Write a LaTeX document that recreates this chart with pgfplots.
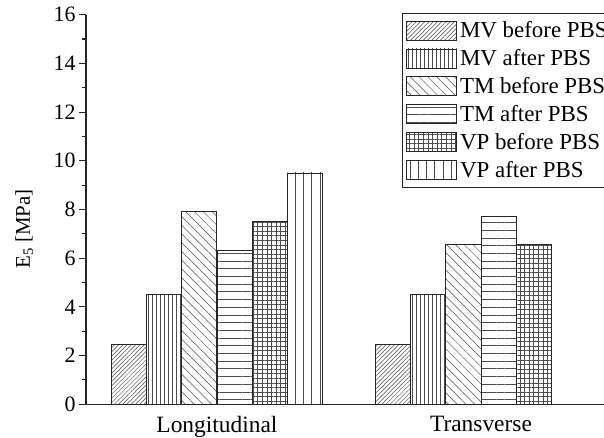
\documentclass[border=0pt]{standalone}
\usepackage{fontspec}
\setmainfont{Liberation Serif}
\usepackage{pgfplots}
\pgfplotsset{compat=1.18}
\usetikzlibrary{patterns.meta}

\definecolor{hatchgray}{gray}{0.3}
\definecolor{edgegray}{gray}{0.15}

% rectangular legend swatch showing the fill pattern of each series
\pgfplotsset{swatch/.style={legend image code/.code={%
  \draw[##1] (0bp,-9.5bp) rectangle (50bp,9.5bp);}}}

\begin{document}
\begin{tikzpicture}
\begin{axis}[
  at={(86bp,33.7bp)}, anchor=south west,
  scale only axis, width=527bp, height=389.6bp,
  xmin=0.504, xmax=2.5, ymin=0, ymax=16,
  axis x line=bottom, axis y line=left,
  axis line style={-, line width=1.3bp, edgegray},
  ytick={0,2,...,16}, minor y tick num=1,
  tick align=outside,
  major tick length=7bp, minor tick length=4bp,
  tick style={line width=1.1bp, edgegray},
  xtick={1,2}, xticklabels={Longitudinal,Transverse},
  major x tick style={draw=none},
  /pgf/number format/assume math mode=true,
  yticklabel style={font=\fontsize{22}{22}\selectfont},
  xticklabel style={font=\fontsize{23.5}{23.5}\selectfont, yshift=-1.5bp},
  ylabel={E\textsubscript{5} [MPa]},
  ylabel style={font=\fontsize{21}{21}\selectfont,
    at={(axis description cs:-0.117,0.45)}, anchor=center},
  ybar=0pt, bar width=0.1337,
  legend style={at={(rel axis cs:0.599,1.004)}, anchor=north west,
    draw=edgegray, line width=1bp,
    font=\fontsize{23}{23}\selectfont,
    inner xsep=4bp, inner ysep=7bp, row sep=8bp,
    cells={anchor=west}, nodes={inner ysep=1bp, inner xsep=3bp}},
  legend cell align=left,
]
\addplot[draw=edgegray, line width=0.9bp, bar shift=-0.3343,
  pattern={Lines[angle=45,distance=3bp,line width=0.5bp]}, pattern color=hatchgray, swatch]
  coordinates {(1,2.45) (2,2.45)};
\addlegendentry{MV before PBS}
\addplot[draw=edgegray, line width=0.9bp, bar shift=-0.2006,
  pattern={Lines[angle=90,distance=4bp,line width=0.5bp]}, pattern color=hatchgray, swatch]
  coordinates {(1,4.5) (2,4.5)};
\addlegendentry{MV after PBS}
\addplot[draw=edgegray, line width=0.9bp, bar shift=-0.0669,
  pattern={Lines[angle=-45,distance=6.2bp,line width=0.5bp]}, pattern color=hatchgray, swatch]
  coordinates {(1,7.9) (2,6.55)};
\addlegendentry{TM before PBS}
\addplot[draw=edgegray, line width=0.9bp, bar shift=0.0669,
  pattern={Lines[angle=0,distance=7.7bp,line width=0.5bp]}, pattern color=hatchgray, swatch]
  coordinates {(1,6.3) (2,7.7)};
\addlegendentry{TM after PBS}
\addplot[draw=edgegray, line width=0.9bp, bar shift=0.2006,
  pattern={Hatch[distance=4.6bp,line width=0.5bp]}, pattern color=hatchgray, swatch]
  coordinates {(1,7.5) (2,6.55)};
\addlegendentry{VP before PBS}
\addplot[draw=edgegray, line width=0.9bp, bar shift=0.3343,
  pattern={Lines[angle=90,distance=8.2bp,line width=0.5bp]}, pattern color=hatchgray, swatch]
  coordinates {(1,9.5)};
\addlegendentry{VP after PBS}
\end{axis}
\pgfresetboundingbox
\useasboundingbox (0,0) rectangle (604bp,438bp);
\end{tikzpicture}
\end{document}
